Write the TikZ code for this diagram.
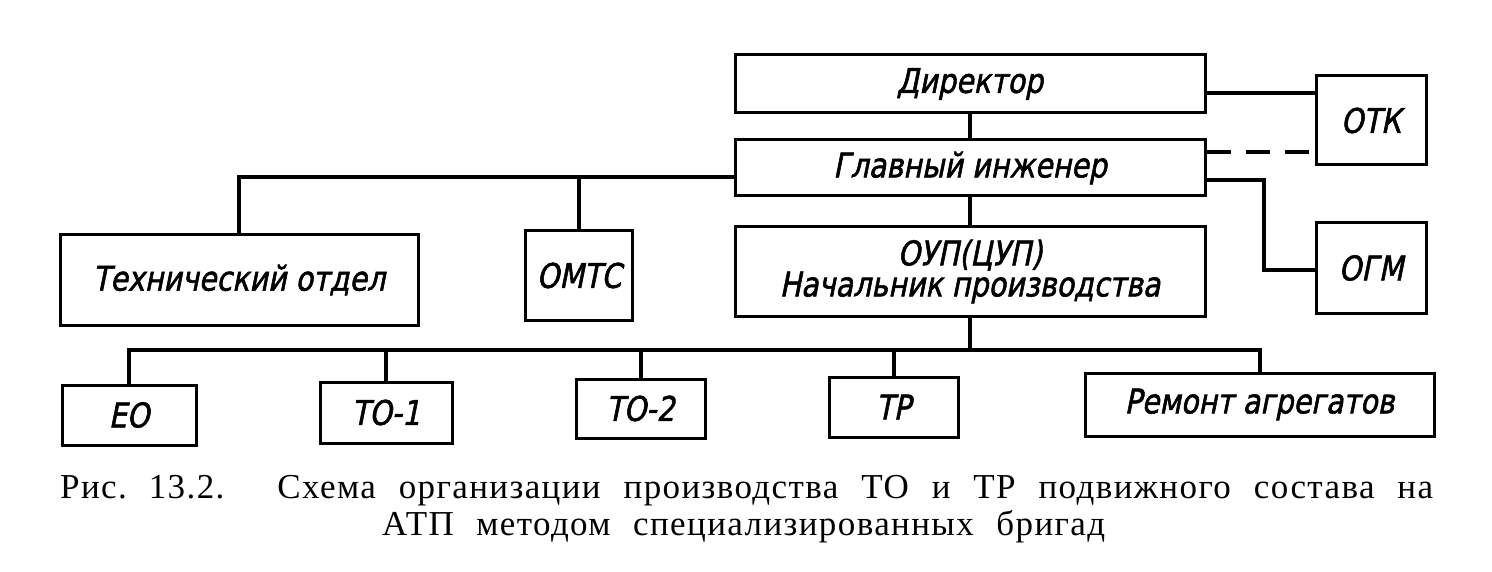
\documentclass[tikz,border=0pt]{standalone}
\usepackage{fontspec}
\setmainfont{Liberation Serif}
\newfontfamily\gost[FakeStretch=0.84,FakeSlant=0.2,FakeBold=1.6]{DejaVu Sans}
\newfontfamily\capfont[LetterSpace=4]{Liberation Serif}
\begin{document}
\begin{tikzpicture}[x=1pt,y=-1pt,
  blk/.style={draw,line width=3pt,inner sep=0pt,align=center,
    font=\gost\fontsize{34}{31}\selectfont},
  lnk/.style={line width=4pt}]
\useasboundingbox[fill=white] (0,0) rectangle (1492,572);
% boxes
\node[blk,minimum width=470pt,minimum height=58pt] (dir) at (970,84) {Директор};
\node[blk,minimum width=470pt,minimum height=56pt] (gi) at (970,168) {Главный инженер};
\node[blk,minimum width=470pt,minimum height=89pt] (oup) at (970,271.5) {ОУП(ЦУП)\\Начальник производства};
\node[blk,minimum width=110pt,minimum height=89pt] (otk) at (1371,120.5) {ОТК};
\node[blk,minimum width=110pt,minimum height=90pt] (ogm) at (1371,268) {ОГМ};
\node[blk,minimum width=358pt,minimum height=90pt] (tech) at (239,280) {Технический отдел};
\node[blk,minimum width=107pt,minimum height=89pt] (omts) at (579,275.5) {ОМТС};
\node[blk,minimum width=134pt,minimum height=60pt] (eo) at (129,415) {ЕО};
\node[blk,minimum width=132pt,minimum height=61pt] (to1) at (386,412.5) {ТО-1};
\node[blk,minimum width=129pt,minimum height=59pt] (to2) at (640.5,408.5) {ТО-2};
\node[blk,minimum width=129pt,minimum height=60pt] (tr) at (893.5,407) {ТР};
\node[blk,minimum width=349pt,minimum height=63pt] (rem) at (1259.5,404.5) {Ремонт агрегатов};
% helper coordinates
\coordinate (yDO) at (0,93);
\coordinate (yGO) at (0,152);
\coordinate (yGM) at (0,180);
\coordinate (kGM) at (1264,270);
\coordinate (yTL) at (0,177);
\coordinate (yBus) at (0,350);
% connectors
\draw[lnk] (dir.south) -- (gi.north);
\draw[lnk] (gi.south) -- (oup.north);
\draw[lnk] (dir.east |- yDO) -- (otk.west |- yDO);
\draw[lnk,line width=3.5pt,dash pattern=on 24pt off 15pt] (gi.east |- yGO) -- (otk.west |- yGO);
\draw[lnk] (gi.east |- yGM) -| (kGM) -- (ogm.west |- kGM);
\draw[lnk] (gi.west |- yTL) -| (tech.north);
\draw[lnk] (omts.north |- yTL) -- (omts.north);
\draw[lnk] (oup.south) -- (oup.south |- yBus);
\draw[lnk] (eo.north) |- (rem.north |- yBus) -- (rem.north);
\draw[lnk] (to1.north |- yBus) -- (to1.north);
\draw[lnk] (to2.north |- yBus) -- (to2.north);
\draw[lnk] (tr.north |- yBus) -- (tr.north);
% caption (one text block, two lines)
\node[anchor=base west,inner sep=0pt] (cap) at (60,498) {\capfont\fontsize{35}{37}\selectfont
  \vtop{\hsize=1373pt\parindent=0pt\baselineskip=37pt
  \hbox to 1373pt{\spaceskip=.3em plus 1fil minus .2em Рис.\hskip .45em plus .5fil 13.2.\hskip .8em plus 2fil minus .2em Схема организации производства ТО и ТР подвижного состава на}
  \hbox{\hskip 322pt\hbox to 723pt{\spaceskip=.3em plus 1fil minus .2em АТП методом специализированных бригад}}}};
\end{tikzpicture}
\end{document}
